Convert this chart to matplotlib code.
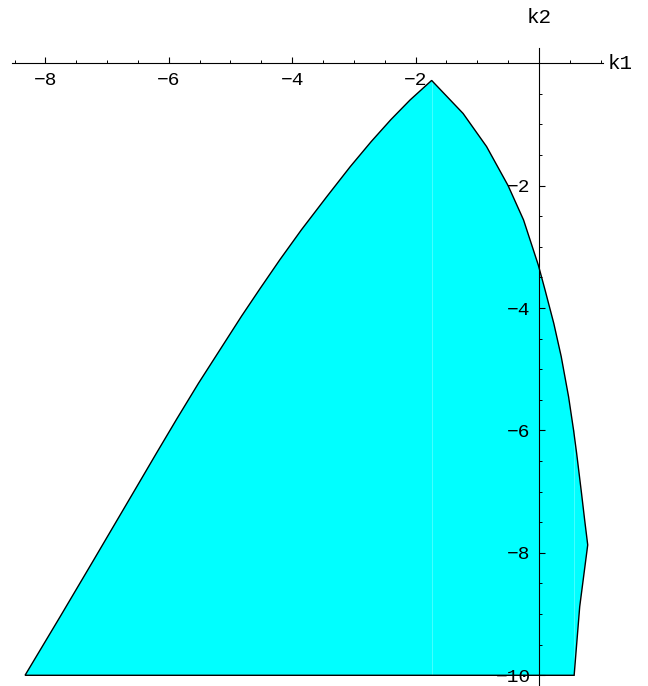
import numpy as np
import matplotlib
matplotlib.use('Agg')
import matplotlib.pyplot as plt

# region boundary: left branch from the apex down to k2 = -10
left_k1 = [-1.74, -2.09, -2.40, -2.72, -3.06, -3.44, -3.85, -4.20, -4.52, -4.82,
           -5.17, -5.52, -5.87, -6.20, -6.52, -6.87, -7.22, -7.76, -8.33]
left_k2 = [-0.28, -0.60, -0.92, -1.28, -1.69, -2.18, -2.72, -3.21, -3.68, -4.13,
           -4.68, -5.23, -5.81, -6.37, -6.92, -7.52, -8.12, -9.04, -10.0]

# right branch from the apex over the corner down to k2 = -10
right_k1 = [-1.74, -1.23, -0.85, -0.50, -0.25, -0.01, 0.10, 0.24, 0.36,
            0.48, 0.56, 0.61, 0.69, 0.74, 0.79, 0.66, 0.57]
right_k2 = [-0.28, -0.82, -1.36, -2.00, -2.56, -3.30, -3.71, -4.25, -4.79,
            -5.45, -5.99, -6.37, -7.03, -7.46, -7.87, -8.88, -10.0]

x_major = [-8, -6, -4, -2]
y_major = [-10, -8, -6, -4, -2]

plt.rcParams['font.family'] = ['Liberation Mono', 'DejaVu Sans Mono']

fig = plt.figure(figsize=(6.48, 6.86), dpi=100)
ax = fig.add_axes([0, 0, 1, 1])

# closed outline: down the right side, along the bottom, back up the left side
poly_x = np.concatenate([right_k1, left_k1[::-1]])
poly_y = np.concatenate([right_k2, left_k2[::-1]])
ax.fill(poly_x, poly_y, facecolor='#00ffff', edgecolor='none', zorder=1)

# faint seams between the filled pieces
ax.plot([left_k1[0], left_k1[0]], [left_k2[0], -10.0], color='#7affff', lw=0.4, zorder=1.5)
ax.plot([right_k1[-1], right_k1[-1]], [-10.0, right_k2[10]], color='#7affff', lw=0.4, zorder=1.5)

ax.fill(poly_x, poly_y, facecolor='none', edgecolor='black', lw=1.0, zorder=2)

ax.set_xlim(-8.736, 1.767)
ax.set_ylim(-10.175, 1.034)

for s in ['top', 'right']:
    ax.spines[s].set_visible(False)
ax.spines['bottom'].set_position(('data', 0))
ax.spines['left'].set_position(('data', 0))
ax.spines['bottom'].set_bounds(-8.54, 1.04)
ax.spines['left'].set_bounds(-10.3, 0.25)
for s in ['bottom', 'left']:
    ax.spines[s].set_linewidth(0.8)
    ax.spines[s].set_zorder(3)

ax.set_xticks(x_major)
ax.set_xticks([v for v in np.arange(-8.5, 1.01, 0.5) if v not in x_major], minor=True)
ax.set_yticks(y_major)
ax.set_yticks([v for v in np.arange(-10, 0.01, 0.5) if v not in y_major], minor=True)
ax.set_xticklabels([f'\u2212{-v}' for v in x_major])
ax.set_yticklabels([f'\u2212{-v}' for v in y_major])
ax.tick_params(which='major', direction='in', length=4, width=0.8, labelsize=14, pad=6)
ax.tick_params(which='minor', direction='in', length=2.5, width=0.7)

ax.text(0, 0.75, 'k2', ha='center', va='center', fontsize=15)
ax.text(1.12, 0, 'k1', ha='left', va='center', fontsize=15)

fig.savefig('out.png', dpi=100)
